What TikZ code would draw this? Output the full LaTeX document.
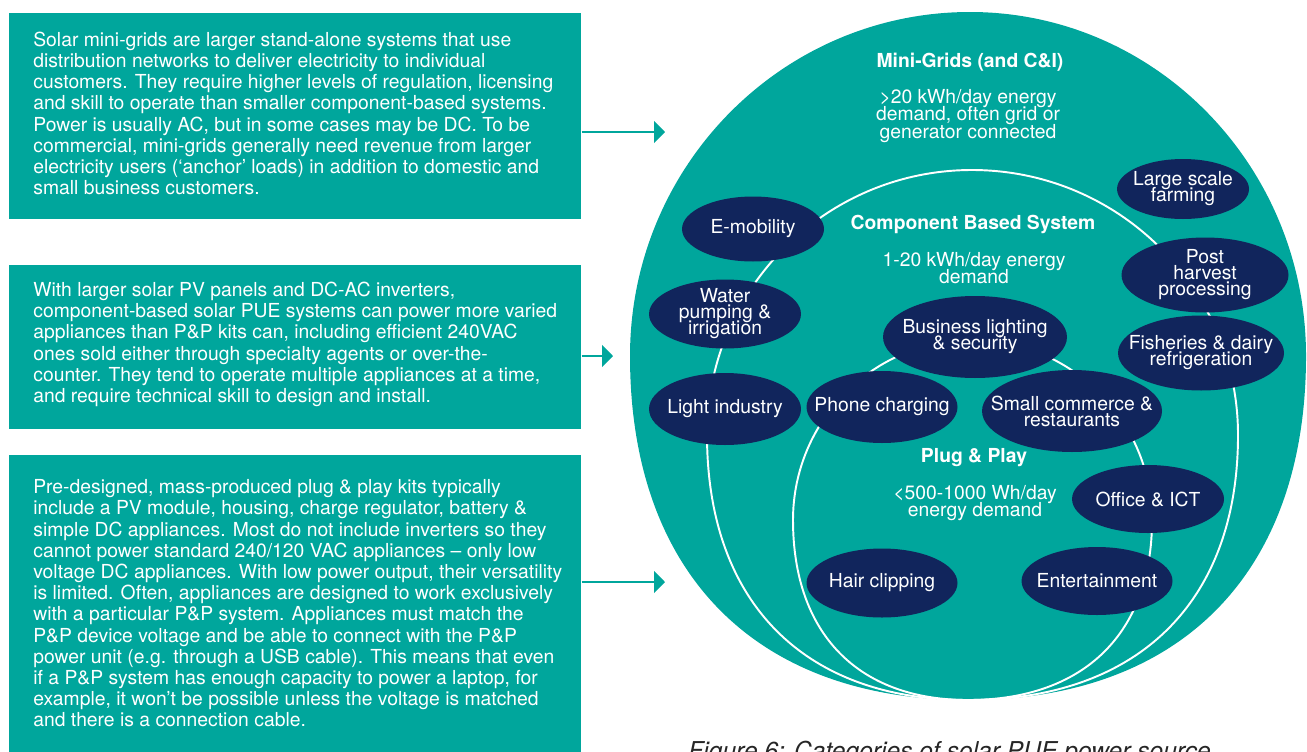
\documentclass[tikz,border=0pt]{standalone}
\usepackage{fontspec}
\setmainfont{TeX Gyre Heros}
\usepackage{xcolor}
\usepackage{tikz}
\usetikzlibrary{arrows.meta, positioning, shapes.geometric}
\definecolor{pteal}{RGB}{0,166,156}
\definecolor{pnavy}{RGB}{17,37,92}

\begin{document}
\begin{tikzpicture}[x=0.02cm, y=-0.02cm,
		infobox/.style={fill=pteal, inner sep=0pt, minimum width=11.44cm, anchor=north west},
		boxtext/.style={text=white, align=left, inner sep=0pt, yshift=0.06cm, font=\fontsize{11}{12.07}\selectfont},
		title/.style={text=white, inner sep=0pt, font=\fontsize{11}{12}\selectfont\bfseries},
		desc/.style={text=white, align=center, inner sep=0pt, font={\fontsize{11}{10}\selectfont\lineskiplimit=-10pt}},
		appl/.style 2 args={ellipse, fill=pnavy, text=white, align=center, inner xsep=-0.5cm, inner ysep=-0.3cm, minimum width=#1, minimum height=#2, font={\fontsize{11}{9.1}\selectfont\lineskiplimit=-10pt}},
		ring/.style={draw=white, line width=1.1pt},
		conn/.style={draw=pteal, line width=1.1pt, -{Triangle[length=6.2pt,width=12.4pt]}}]
			% Picture's frame
			\clip (0,0) rectangle (1307,751);
			\def\kT{0.552}
			\def\kB{0.63}
			
			% TEXT BOXES
			\node[infobox, minimum height=4.12cm] (mgbox) at (9,13) {};
			\node[boxtext, right=0.48cm of mgbox.west] (mgtext) {Solar mini-grids are larger stand-alone systems that use\\distribution networks to deliver electricity to individual\\customers. They require higher levels of regulation, licensing\\and skill to operate than smaller component-based systems.\\Power is usually AC, but in some cases may be DC. To be\\commercial, mini-grids generally need revenue from larger\\electricity users (‘anchor’ loads) in addition to domestic and\\small business customers.};
			
			\node[infobox, minimum height=3.28cm] (cbsbox) at (9,265) {};
			\node[boxtext, right=0.48cm of cbsbox.west] (cbstext) {With larger solar PV panels and DC-AC inverters,\\component-based solar PUE systems can power more varied\\appliances than P\&P kits can, including efficient 240VAC\\ones sold either through specialty agents or over-the-\\counter. They tend to operate multiple appliances at a time,\\and require technical skill to design and install.};
			
			\node[infobox, minimum height=6.04cm] (ppbox) at (9,455) {};
			\node[boxtext, right=0.48cm of ppbox.west] (pptext) {Pre-designed, mass-produced plug \& play kits typically\\include a PV module, housing, charge regulator, battery \&\\simple DC appliances. Most do not include inverters so they\\cannot power standard 240/120 VAC appliances – only low\\voltage DC appliances. With low power output, their versatility\\is limited. Often, appliances are designed to work exclusively\\with a particular P\&P system. Appliances must match the\\P\&P device voltage and be able to connect with the P\&P\\power unit (e.g. through a USB cable). This means that even\\if a P\&P system has enough capacity to power a laptop, for\\example, it won’t be possible unless the voltage is matched\\and there is a connection cable.};
			
			% ARROWS
			\coordinate (mgtip) at (665,132);
			\coordinate (cbstip) at (613,356);
			\coordinate (pptip) at (665,582);
			\draw[conn] (mgbox.east |- mgtip) -- (mgtip);
			\draw[conn] (cbsbox.east |- cbstip) -- (cbstip);
			\draw[conn] (ppbox.east |- pptip) -- (pptip);
			
			% MINI-GRIDS (outer shape)
			\fill[pteal] (970,12) .. controls (970-\kT*340,12) and (630,356-\kT*344) .. (630,356)
				.. controls (630,356+\kB*344) and (968-\kB*338,700) .. (968,700)
				.. controls (968+\kB*338,700) and (1306,356+\kB*344) .. (1306,356)
				.. controls (1306,356-\kT*344) and (970+\kT*336,12) .. (970,12) -- cycle;
			
			% COMPONENT BASED SYSTEM
			\draw[ring] (972,170) .. controls (972-\kT*265,170) and (707,435-\kT*265) .. (707,435)
				.. controls (707,435+\kB*265) and (968-\kB*261,700) .. (968,700)
				.. controls (968+\kB*270,700) and (1238,435+\kB*265) .. (1238,435)
				.. controls (1238,435-\kT*265) and (972+\kT*266,170) .. (972,170) -- cycle;
			
			% PLUG & PLAY
			\draw[ring] (972,340) .. controls (972-\kT*179,340) and (793,520-\kT*180) .. (793,520)
				.. controls (793,520+\kB*180) and (968-\kB*175,700) .. (968,700)
				.. controls (968+\kB*184,700) and (1152,520+\kB*180) .. (1152,520)
				.. controls (1152,520-\kT*180) and (972+\kT*180,340) .. (972,340) -- cycle;
			
			% CATEGORY LABELS
			\node[title] (mgtitle) at (970,62) {Mini-Grids (and C\&I)};
			\node[desc] (mgdesc) at (968,116) {>20 kWh/day energy\\demand, often grid or\\generator connected};
			\node[title] (cbstitle) at (973,224) {Component Based System};
			\node[desc] (cbsdesc) at (974,268) {1-20 kWh/day energy\\demand};
			\node[title] (pptitle) at (974,458) {Plug \& Play};
			\node[desc] (ppdesc) at (975,503) {<500-1000 Wh/day\\energy demand};
			
			% APPLICATIONS
			\node[appl={2.84cm}{1.30cm}] (emob) at (753,229) {E-mobility};
			\node[appl={2.64cm}{1.20cm}] (farming) at (1183,189) {Large scale\\farming};
			\node[appl={3.04cm}{1.38cm}] (water) at (725,314) {Water\\pumping \&\\irrigation};
			\node[appl={3.34cm}{1.50cm}] (postharv) at (1205,275) {Post\\harvest\\processing};
			\node[appl={3.68cm}{1.64cm}] (bizlight) at (975,337) {Business lighting\\\& security};
			\node[appl={3.32cm}{1.50cm}] (fisheries) at (1201,353) {Fisheries \& dairy\\refrigeration};
			\node[appl={3.04cm}{1.44cm}] (lightind) at (725,409) {Light industry};
			\node[appl={3.02cm}{1.44cm}] (phone) at (882,407) {Phone charging};
			\node[appl={3.60cm}{1.64cm}] (commerce) at (1072,411) {Small commerce \&\\restaurants};
			\node[appl={3.04cm}{1.36cm}] (office) at (1148,499) {Office \& ICT};
			\node[appl={3.02cm}{1.38cm}] (hair) at (882,583) {Hair clipping};
			\node[appl={3.02cm}{1.36cm}] (entertain) at (1097,581) {Entertainment};
			
			% CAPTION
			\node[anchor=base west, inner sep=0pt, text=black!85, font=\fontsize{14}{16}\selectfont\itshape] (figcap) at (688,759) {Figure 6: Categories of solar PUE power source};
\end{tikzpicture}
\end{document}
